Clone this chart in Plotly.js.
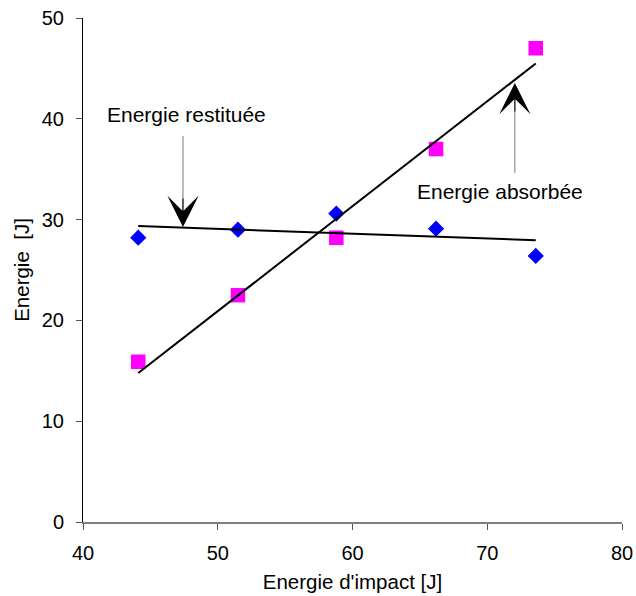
<!DOCTYPE html>
<html>
<head>
<meta charset="utf-8">
<script src="https://cdn.plot.ly/plotly-3.0.1.min.js"></script>
<style>html,body{margin:0;padding:0;background:#fff;}#chart{width:636px;height:596px;}</style>
</head>
<body>
<div id="chart"></div>
<script>
// Data
const impactEnergy = [44.1, 51.5, 58.8, 66.2, 73.6];
const energieRestituee = [28.2, 29.0, 30.6, 29.1, 26.4];
const energieAbsorbee = [15.9, 22.5, 28.2, 37.0, 47.0];
const xTicks = [40, 50, 60, 70, 80];
const yTicks = [0, 10, 20, 30, 40, 50];

// Linear trendline (least squares), like a spreadsheet trendline
function trend(xs, ys) {
  const n = xs.length;
  const mx = xs.reduce((a, b) => a + b, 0) / n;
  const my = ys.reduce((a, b) => a + b, 0) / n;
  let sxy = 0, sxx = 0;
  for (let i = 0; i < n; i++) { sxy += (xs[i] - mx) * (ys[i] - my); sxx += (xs[i] - mx) ** 2; }
  const m = sxy / sxx, b = my - m * mx;
  const x0 = Math.min(...xs), x1 = Math.max(...xs);
  return { x: [x0, x1], y: [m * x0 + b, m * x1 + b] };
}
const tR = trend(impactEnergy, energieRestituee);
const tA = trend(impactEnergy, energieAbsorbee);

const FONT = 'Liberation Sans, Arial, sans-serif';

const traces = [
  { x: impactEnergy, y: energieRestituee, mode: 'markers', type: 'scatter',
    marker: { symbol: 'diamond', size: 12.5, color: '#0000FF' }, cliponaxis: false },
  { x: impactEnergy, y: energieAbsorbee, mode: 'markers', type: 'scatter',
    marker: { symbol: 'square', size: 14.5, color: '#FF00FF' }, cliponaxis: false },
  { x: tR.x, y: tR.y, mode: 'lines', type: 'scatter', line: { color: '#000', width: 2 } },
  { x: tA.x, y: tA.y, mode: 'lines', type: 'scatter', line: { color: '#000', width: 2 } }
];

const layout = {
  width: 636, height: 596,
  margin: { l: 83, r: 14, t: 18, b: 74 },
  paper_bgcolor: '#fff', plot_bgcolor: '#fff',
  showlegend: false, hovermode: false,
  font: { family: FONT, size: 20, color: '#000' },
  xaxis: {
    range: [40, 80], tickvals: xTicks, ticktext: xTicks.map(String),
    showgrid: false, zeroline: false, showline: true, linecolor: '#808080', linewidth: 1.5,
    ticks: 'outside', ticklen: 6, tickcolor: '#555', tickwidth: 1,
    tickfont: { family: FONT, size: 20, color: '#000' }, ticklabelstandoff: 6,
    title: { text: "Energie d'impact [J]", font: { family: FONT, size: 20.5, color: '#000' }, standoff: 12 }
  },
  yaxis: {
    range: [0, 50], tickvals: yTicks, ticktext: yTicks.map(String),
    showgrid: false, zeroline: false, showline: true, linecolor: '#000', linewidth: 1,
    ticks: 'outside', ticklen: 6, tickcolor: '#555', tickwidth: 1,
    tickfont: { family: FONT, size: 20, color: '#000' }, ticklabelstandoff: 8,
    title: { text: 'Energie\u00a0 [J]', font: { family: FONT, size: 20.5, color: '#000' }, standoff: 6 }
  },
  shapes: [
    { type: 'line', xref: 'x', yref: 'y', x0: 47.42, x1: 47.42, y0: 38.28, y1: 31.0, line: { color: '#777', width: 1 } },
    { type: 'line', xref: 'x', yref: 'y', x0: 72.05, x1: 72.05, y0: 34.64, y1: 41.8, line: { color: '#777', width: 1 } }
  ],
  annotations: [
    { x: 47.69, y: 40.47, xref: 'x', yref: 'y', text: 'Energie restituée', showarrow: false,
      font: { family: FONT, size: 21, color: '#000' }, xanchor: 'center', yanchor: 'middle' },
    { x: 70.93, y: 32.75, xref: 'x', yref: 'y', text: 'Energie absorbée', showarrow: false,
      font: { family: FONT, size: 21, color: '#000' }, xanchor: 'center', yanchor: 'middle' },
    { x: 47.42, y: 29.27, xref: 'x', yref: 'y', text: '', showarrow: true, ax: 0, ay: -30,
      arrowhead: 3, arrowsize: 5.2, arrowwidth: 1, arrowcolor: '#000', standoff: 0 },
    { x: 72.05, y: 43.55, xref: 'x', yref: 'y', text: '', showarrow: true, ax: 0, ay: 30,
      arrowhead: 3, arrowsize: 5.2, arrowwidth: 1, arrowcolor: '#000', standoff: 0 }
  ]
};

Plotly.newPlot('chart', traces, layout, { staticPlot: true, displayModeBar: false });
</script>
</body>
</html>
